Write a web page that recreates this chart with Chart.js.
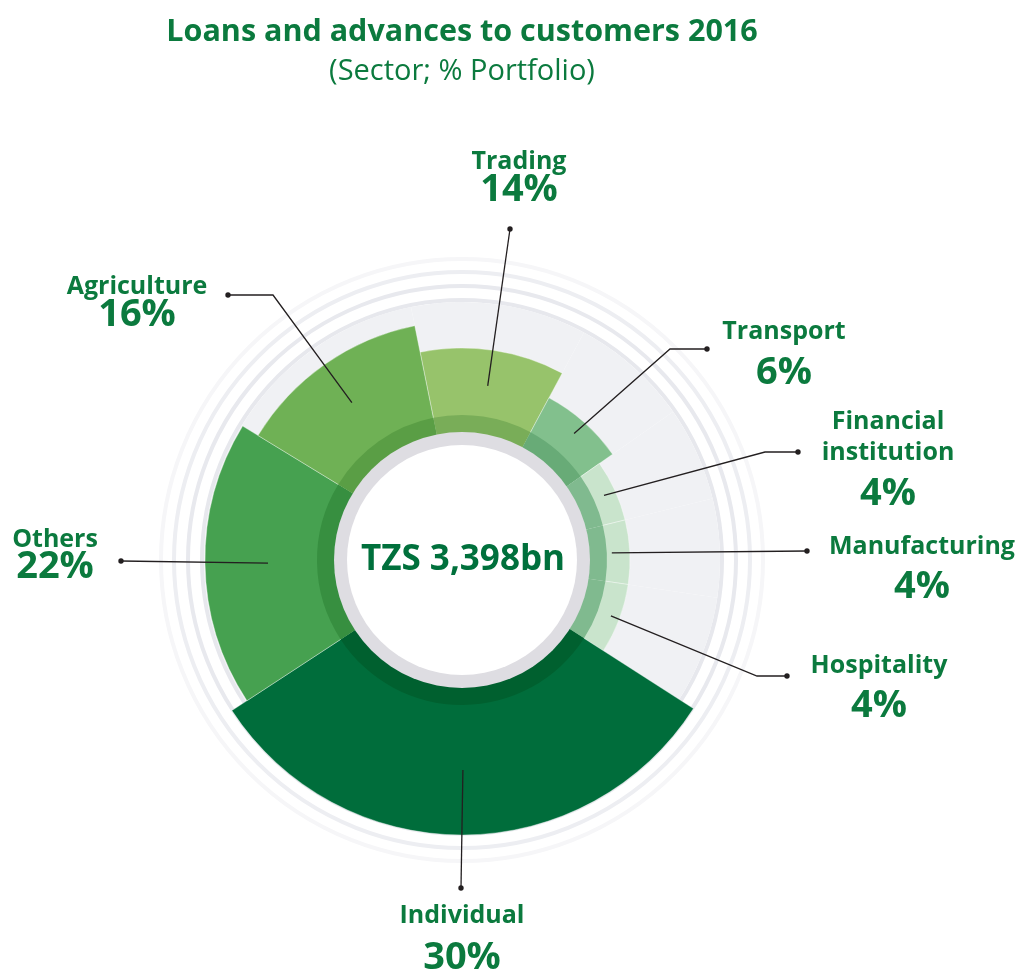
<!DOCTYPE html>
<html>
<head>
<meta charset="utf-8">
<title>Loans and advances to customers 2016</title>
<script src="https://cdn.jsdelivr.net/npm/chart.js@4.4.1/dist/chart.umd.min.js"></script>
<style>
  html, body { margin: 0; padding: 0; background: #ffffff; }
  canvas { display: block; }
</style>
</head>
<body>
<canvas id="sectorChart" width="1019" height="972"></canvas>
<script>
var sectors = ['Trading', 'Transport', 'Financial institution', 'Manufacturing', 'Hospitality', 'Individual', 'Others', 'Agriculture'];
var shares = [14, 6, 4, 4, 4, 30, 22, 16];
// slice width (degrees) and slice depth as drawn in the source graphic
var sweep = [39.6, 26.7, 21.3, 22.2, 24.3, 114.1, 64.6, 47.2];
var depth = [212, 184, 168, 168, 168, 275, 257, 239];
var totalLabel = 'TZS 3,398bn';

var sliceColors = ['#97c36b', '#82c08d', '#c9e4cc', '#c9e4cc', '#c9e4cc', '#006d3b', '#46a150', '#6fb155'];
var bandColors = ['#79ad58', '#68ab77', '#80ba8f', '#80ba8f', '#80ba8f', '#00602f', '#378f40', '#5a9e45'];
var green = '#0b7a3e';
var ink = '#231f20';
var face = '"Open Sans"';

var bandDepth = 145;
var discDepth = 258;
var ringValues = [0, 260, 274, 288, 301];
var ringColors = ['rgba(0,0,0,0)', '#e7e8ed', '#e8e9ee', '#edeef2', '#f6f6f8'];

// where each callout sits (label centre x, line y's, leader path ending in the dot)
var callouts = [
    { x: 519, nameY: [162], pctY: 190, inset: 36, path: [[510, 229]] },
    { x: 784, nameY: [332], pctY: 373, inset: 15, path: [[670, 349], [707, 349]] },
    { x: 888, nameY: [422, 453], pctY: 494, inset: 12, path: [[765, 452], [798, 452]], wrap: ['Financial', 'institution'] },
    { x: 922, nameY: [547], pctY: 587, inset: 18, path: [[807, 551]] },
    { x: 879, nameY: [666], pctY: 706, inset: 9, path: [[757, 676], [787, 676]] },
    { x: 462, nameY: [916], pctY: 958, inset: 65, path: [[461, 888]] },
    { x: 55, nameY: [540], pctY: 567, inset: 63, path: [[121, 561]] },
    { x: 137, nameY: [287], pctY: 315, inset: 47, path: [[273, 295], [228, 295]] }
];

var hubPlugin = {
    id: 'hub',
    afterDatasetsDraw: function(chart) {
        var r = chart.scales.r;
        var ctx = chart.ctx;
        ctx.save();
        ctx.fillStyle = '#dedde2';
        ctx.beginPath();
        ctx.arc(r.xCenter, r.yCenter, r.getDistanceFromCenterForValue(128), 0, 2 * Math.PI);
        ctx.fill();
        ctx.fillStyle = '#ffffff';
        ctx.beginPath();
        ctx.arc(r.xCenter, r.yCenter, r.getDistanceFromCenterForValue(115), 0, 2 * Math.PI);
        ctx.fill();
        ctx.fillStyle = '#00703c';
        ctx.font = 'bold 35px ' + face;
        ctx.textAlign = 'center';
        ctx.textBaseline = 'middle';
        ctx.fillText(totalLabel, r.xCenter + 1, r.yCenter);
        ctx.restore();
    }
};

var calloutPlugin = {
    id: 'callouts',
    afterDraw: function(chart) {
        var ctx = chart.ctx;
        var arcs = chart.getDatasetMeta(1).data;
        ctx.save();
        callouts.forEach(function(c, i) {
            var arc = arcs[i];
            var mid = (arc.startAngle + arc.endAngle) / 2;
            var rr = arc.outerRadius - c.inset;
            var ax = arc.x + Math.cos(mid) * rr;
            var ay = arc.y + Math.sin(mid) * rr;

            ctx.strokeStyle = ink;
            ctx.lineWidth = 1.3;
            ctx.beginPath();
            ctx.moveTo(ax, ay);
            c.path.forEach(function(p) { ctx.lineTo(p[0], p[1]); });
            ctx.stroke();

            var dot = c.path[c.path.length - 1];
            ctx.fillStyle = ink;
            ctx.beginPath();
            ctx.arc(dot[0], dot[1], 2.7, 0, 2 * Math.PI);
            ctx.fill();

            ctx.fillStyle = green;
            ctx.textAlign = 'center';
            ctx.textBaseline = 'middle';
            ctx.font = 'bold 25px ' + face;
            var names = c.wrap || [sectors[i]];
            names.forEach(function(t, k) { ctx.fillText(t, c.x, c.nameY[k]); });
            ctx.font = 'bold 38px ' + face;
            ctx.fillText(shares[i] + '%', c.x, c.pctY);
        });
        ctx.restore();
    }
};

var ctx = document.getElementById('sectorChart').getContext('2d');

var sectorChart = new Chart(ctx, {
    type: 'polarArea',
    data: {
        labels: sectors,
        datasets: [{
            label: 'band',
            data: sectors.map(function() { return bandDepth; }),
            backgroundColor: bandColors,
            borderWidth: 0,
            angle: sweep
        }, {
            label: 'Share of portfolio',
            data: depth,
            backgroundColor: sliceColors,
            borderColor: 'rgba(255, 255, 255, 0.35)',
            borderWidth: 1,
            angle: sweep
        }, {
            label: 'disc',
            data: sectors.map(function() { return discDepth; }),
            backgroundColor: '#f0f1f4',
            borderWidth: 0,
            angle: sweep
        }]
    },
    options: {
        responsive: false,
        animation: false,
        layout: {
            padding: { left: 152, right: 247, top: 0, bottom: 102 }
        },
        scales: {
            r: {
                min: 0,
                max: 310,
                startAngle: -11.4,
                ticks: { display: false },
                angleLines: { display: false },
                afterBuildTicks: function(scale) {
                    scale.ticks = ringValues.map(function(v) { return { value: v }; });
                },
                grid: {
                    circular: true,
                    color: function(c) { return ringColors[c.index] || 'rgba(0,0,0,0)'; },
                    lineWidth: 4
                }
            }
        },
        plugins: {
            legend: { display: false },
            title: {
                display: true,
                text: 'Loans and advances to customers 2016',
                color: green,
                font: { family: face, size: 30.5, weight: 'bold' },
                padding: { top: 14, bottom: 0 }
            },
            subtitle: {
                display: true,
                text: '(Sector; % Portfolio)',
                color: green,
                font: { family: face, size: 29, weight: 'normal' },
                padding: { top: 4, bottom: 160.6 }
            },
            tooltip: {
                filter: function(item) { return item.datasetIndex === 1; },
                callbacks: {
                    label: function(item) { return sectors[item.dataIndex] + ': ' + shares[item.dataIndex] + '%'; }
                }
            }
        }
    },
    plugins: [hubPlugin, calloutPlugin]
});
</script>
</body>
</html>
